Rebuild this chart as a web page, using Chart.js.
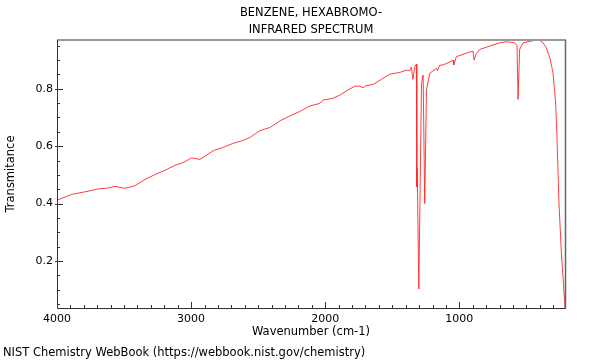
<!DOCTYPE html>
<html>
<head>
<meta charset="utf-8">
<script src="https://cdn.jsdelivr.net/npm/chart.js@4/dist/chart.umd.min.js"></script>
<style>
html,body{margin:0;padding:0;background:#fff;}
#wrap{width:600px;height:360px;position:relative;}
</style>
</head>
<body>
<div id="wrap"><canvas id="c" width="600" height="360"></canvas></div>
<script>
// ---- data ----
const titleLines = ['BENZENE, HEXABROMO-', 'INFRARED SPECTRUM'];
const xAxisTitle = 'Wavenumber (cm-1)';
const yAxisTitle = 'Transmitance';
const footerText = 'NIST Chemistry WebBook (https://webbook.nist.gov/chemistry)';

const wavenumbers = [
  4000, 3890, 3767, 3692, 3620, 3568, 3493, 3419, 3344, 3270,
  3195, 3121, 3059, 2996, 2934, 2897, 2835, 2760, 2686, 2620,
  2562, 2487, 2413, 2338, 2264, 2189, 2115, 2040, 2016, 1941,
  1891, 1841, 1779, 1742, 1717, 1697, 1643, 1580, 1519, 1444,
  1394, 1370, 1358, 1346, 1332, 1320, 1318, 1316, 1314, 1302,
  1282, 1270, 1258, 1245, 1221, 1171, 1163, 1146, 1122, 1072,
  1047, 1042, 1022, 923, 898, 890, 873, 848, 773, 699,
  649, 587, 570, 562, 550, 525, 475, 425, 401, 376,
  351, 326, 302, 282, 272, 257, 239, 222, 212
];
const transmittance = [
  0.412, 0.432, 0.443, 0.451, 0.454, 0.460, 0.453, 0.462, 0.484, 0.501,
  0.516, 0.533, 0.543, 0.559, 0.554, 0.565, 0.584, 0.596, 0.610, 0.619,
  0.630, 0.654, 0.665, 0.688, 0.705, 0.721, 0.740, 0.749, 0.761, 0.767,
  0.778, 0.793, 0.809, 0.809, 0.803, 0.811, 0.815, 0.833, 0.851, 0.857,
  0.865, 0.863, 0.875, 0.833, 0.877, 0.886, 0.530, 0.458, 0.525, 0.102,
  0.819, 0.848, 0.400, 0.795, 0.854, 0.871, 0.863, 0.882, 0.883, 0.893,
  0.900, 0.883, 0.912, 0.928, 0.931, 0.900, 0.923, 0.937, 0.949, 0.960,
  0.964, 0.960, 0.951, 0.763, 0.937, 0.960, 0.965, 0.970, 0.969, 0.960,
  0.943, 0.909, 0.858, 0.751, 0.635, 0.402, 0.228, 0.112, 0.036
];
const xTickValues = [4000, 3000, 2000, 1000];
const xTickLabels = ['4000', '3000', '2000', '1000'];
const yTickValues = [0.2, 0.4, 0.6, 0.8];
const yTickLabels = ['0.2', '0.4', '0.6', '0.8'];

const FONT = 'DejaVu Sans';

const points = wavenumbers.map((w, i) => ({x: w, y: transmittance[i]}));

const framePlugin = {
  id: 'frame',
  afterDraw(chart) {
    const ctx = chart.ctx;
    const a = chart.chartArea;
    const xs = chart.scales.x, ys = chart.scales.y;
    ctx.save();
    // minor / major ticks
    ctx.strokeStyle = '#333';
    ctx.lineWidth = 1;
    ctx.beginPath();
    for (let v = 300; v <= 4000; v += 100) {
      const px = Math.round(xs.getPixelForValue(v)) + 0.5;
      const major = v % 1000 === 0;
      ctx.moveTo(px, a.bottom);
      ctx.lineTo(px, a.bottom - (major ? 6 : 3));
    }
    for (let k = 1; k <= 19; k++) {
      const v = k * 0.05;
      if (v < ys.min || v > ys.max) continue;
      const py = Math.round(ys.getPixelForValue(v)) + 0.5;
      const major = k % 4 === 0;
      ctx.moveTo(a.left - (major ? 2 : 0), py);
      ctx.lineTo(a.left + (major ? 6 : 3), py);
    }
    ctx.stroke();
    // frame: top & right grey, left & bottom dark
    ctx.strokeStyle = '#9a9a9a';
    ctx.lineWidth = 2;
    ctx.beginPath();
    ctx.moveTo(a.left, a.top);
    ctx.lineTo(a.right + 1, a.top);
    ctx.stroke();
    ctx.strokeStyle = '#666';
    ctx.lineWidth = 1.5;
    ctx.beginPath();
    ctx.moveTo(a.right + 0.5, a.top);
    ctx.lineTo(a.right + 0.5, a.bottom);
    ctx.stroke();
    ctx.strokeStyle = '#333';
    ctx.lineWidth = 1;
    ctx.beginPath();
    ctx.moveTo(a.left + 0.5, a.top);
    ctx.lineTo(a.left + 0.5, a.bottom + 0.5);
    ctx.lineTo(a.right + 1, a.bottom + 0.5);
    ctx.stroke();
    // texts
    const cx = (a.left + a.right) / 2;
    ctx.fillStyle = '#000';
    ctx.textAlign = 'center';
    ctx.textBaseline = 'middle';
    ctx.font = '11.5px "' + FONT + '"';
    ctx.fillText(titleLines[0], cx, 13);
    ctx.fillText(titleLines[1], cx, 30);
    ctx.fillText(xAxisTitle, cx, 332);
    ctx.textAlign = 'left';
    ctx.fillText(footerText, 3, 353);
    ctx.translate(11, (a.top + a.bottom) / 2);
    ctx.rotate(-Math.PI / 2);
    ctx.textAlign = 'center';
    ctx.fillText(yAxisTitle, 0, 0);
    ctx.restore();
  }
};

new Chart(document.getElementById('c'), {
  type: 'line',
  data: {
    datasets: [{
      data: points,
      borderColor: 'rgba(255,40,40,0.9)',
      borderWidth: 1,
      pointRadius: 0,
      tension: 0,
      fill: false
    }]
  },
  options: {
    responsive: false,
    animation: false,
    events: [],
    layout: {padding: {top: 40, right: 35, bottom: 32, left: 0}},
    plugins: {legend: {display: false}, title: {display: false}, tooltip: {enabled: false}},
    scales: {
      x: {
        type: 'linear',
        reverse: true,
        min: 212,
        max: 4000,
        afterBuildTicks: s => { s.ticks = xTickValues.map(v => ({value: v})); },
        afterFit: s => { s.height = 20; },
        grid: {display: false, drawTicks: false},
        border: {display: false},
        ticks: {
          autoSkip: false, maxRotation: 0, padding: 5, color: '#000',
          font: {family: FONT, size: 11},
          callback: v => xTickLabels[xTickValues.indexOf(v)]
        }
      },
      y: {
        type: 'linear',
        min: 0.036,
        max: 0.970,
        afterBuildTicks: s => { s.ticks = yTickValues.map(v => ({value: v})); },
        afterFit: s => { s.width = 57; },
        grid: {display: false, drawTicks: false},
        border: {display: false},
        ticks: {
          autoSkip: false, padding: 4, color: '#000',
          font: {family: FONT, size: 11},
          callback: v => yTickLabels[yTickValues.indexOf(v)]
        }
      }
    }
  },
  plugins: [framePlugin]
});
</script>
</body>
</html>
